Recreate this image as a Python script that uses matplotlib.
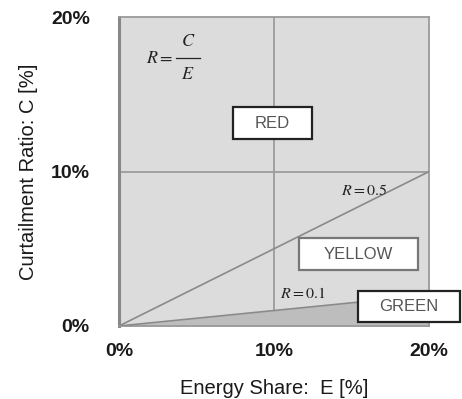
import matplotlib
matplotlib.use("Agg")
import matplotlib.pyplot as plt
from matplotlib.patches import Rectangle

# data
energy_share = [0, 20]          # E [%]
ratios = [0.5, 0.1]             # R = C / E boundary lines
ticks = [0, 10, 20]
tick_labels = ["0%", "10%", "20%"]

# zone label boxes: (label, x0, y0, x1, y1) in data units
zones = [
    ("RED", 7.35, 12.1, 12.45, 14.17),
    ("YELLOW", 11.6, 3.62, 19.3, 5.7),
    ("GREEN", 15.42, 0.26, 22.0, 2.27),
]

plt.rcParams["font.family"] = ["Liberation Sans", "DejaVu Sans"]

fig = plt.figure(figsize=(4.62, 3.99), dpi=100)
ax = fig.add_axes([0.2576, 0.183, 0.671, 0.774])
ax.set_facecolor("#dcdcdc")

ax.set_xlim(0, 20)
ax.set_ylim(0, 20)

# grid
ax.axvline(10, color="#9c9c9c", lw=1.3, zorder=1)
ax.axhline(10, color="#9c9c9c", lw=1.3, zorder=1)

# green zone below R=0.1
low = [e * ratios[1] for e in energy_share]
ax.fill_between(energy_share, 0, low, color="#bdbdbd", lw=0, zorder=2)

for r in ratios:
    ax.plot(energy_share, [e * r for e in energy_share], color="#8a8a8a", lw=1.2, zorder=3)

for name, x0, y0, x1, y1 in zones:
    ec = "#777777" if name == "YELLOW" else "#222222"
    ax.add_patch(Rectangle((x0, y0), x1 - x0, y1 - y0, facecolor="white",
                           edgecolor=ec, lw=1.6, clip_on=False, zorder=5))
    ax.text((x0 + x1) / 2, (y0 + y1) / 2, name, ha="center", va="center",
            fontsize=12, color="#555555", zorder=6)

# R = C / E formula, spaced out like the original
math = dict(math_fontfamily="stix", color="#222222", va="center")
ax.text(1.75, 17.35, r"$R=$", fontsize=13, ha="left", **math)
ax.plot([3.65, 5.2], [17.35, 17.35], color="#222222", lw=0.9)
ax.text(4.45, 18.45, r"$C$", fontsize=13, ha="center", **math)
ax.text(4.45, 16.3, r"$E$", fontsize=13, ha="center", **math)

ax.text(14.3, 8.75, r"$R=0.5$", fontsize=11.5, ha="left", **math)
ax.text(10.4, 2.1, r"$R=0.1$", fontsize=11.5, ha="left", **math)

ax.set_xticks(ticks)
ax.set_xticklabels(tick_labels)
ax.set_yticks(ticks)
ax.set_yticklabels(tick_labels)
ax.tick_params(length=0, labelsize=14, labelcolor="#1a1a1a")
ax.tick_params(axis="x", pad=12)
ax.tick_params(axis="y", pad=21)
for lab in ax.get_xticklabels() + ax.get_yticklabels():
    lab.set_fontweight("bold")

for side, sp in ax.spines.items():
    sp.set_color("#9a9a9a")
    sp.set_linewidth(1.3)
ax.spines["left"].set_linewidth(2.2)
ax.spines["left"].set_color("#888888")

ax.set_xlabel("Energy Share:  E [%]", fontsize=14.5, labelpad=14, color="#1a1a1a")
ax.set_ylabel("Curtailment Ratio: C [%]", fontsize=14.5, labelpad=9, color="#1a1a1a")

fig.savefig("out.png", dpi=100)
